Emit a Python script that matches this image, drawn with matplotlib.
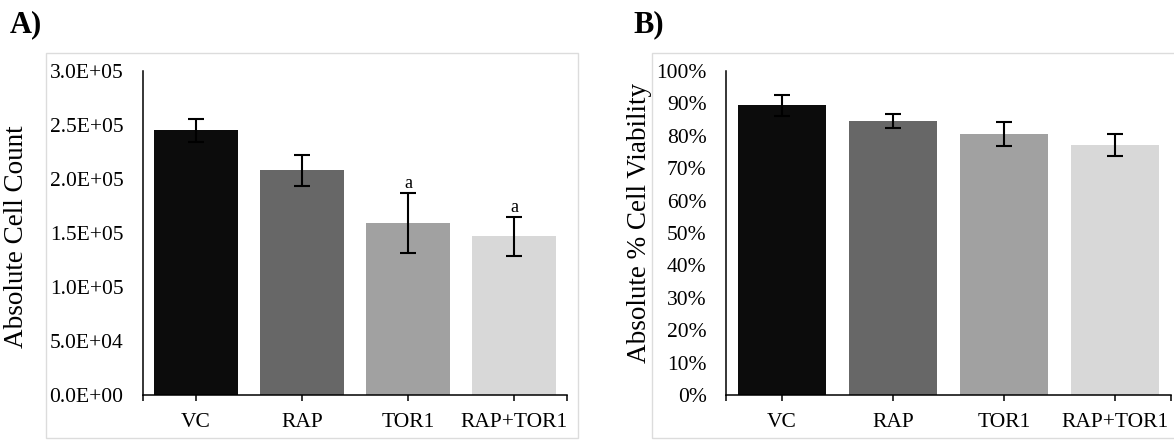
import matplotlib.pyplot as plt
import matplotlib.ticker as mticker
from matplotlib.patches import Rectangle

groups = ['VC', 'RAP', 'TOR1', 'RAP+TOR1']
colors = ['#0c0c0c', '#676767', '#a1a1a1', '#d8d8d8']

cell_count = [2.45e5, 2.08e5, 1.59e5, 1.47e5]
cell_count_err = [1.07e4, 1.44e4, 2.78e4, 1.79e4]
count_marks = ['', '', 'a', 'a']

viability = [89.4, 84.5, 80.5, 77.2]
viability_err = [3.2, 2.2, 3.7, 3.5]

plt.rcParams['font.family'] = ['Liberation Serif', 'DejaVu Serif']

fig = plt.figure(figsize=(11.74, 4.42), dpi=100)
W, H = 1174, 442


def px_axes(left, right, top, bottom):
    return fig.add_axes([left / W, 1 - bottom / H, (right - left) / W, (bottom - top) / H])


def style(ax):
    for s in ['top', 'right']:
        ax.spines[s].set_visible(False)
    ax.spines['left'].set_linewidth(1.1)
    ax.spines['bottom'].set_linewidth(1.1)
    ax.set_xlim(-0.5, 3.5)
    ax.set_xticks(range(len(groups)))
    ax.set_xticklabels(groups)
    ax.set_xticks([-0.5, 3.5], minor=True)
    ax.tick_params(axis='x', which='both', direction='out', length=4, width=1.1, pad=9, labelsize=15.5)
    ax.tick_params(axis='y', length=0, pad=14, labelsize=15.5)


# grey frames around the two panels
fig.patches.append(Rectangle((46 / W, 1 - 438 / H), 532 / W, 385 / H, transform=fig.transFigure,
                             fill=False, edgecolor='#dcdcdc', lw=1))
fig.patches.append(Rectangle((652 / W, 1 - 438 / H), 530 / W, 385 / H, transform=fig.transFigure,
                             fill=False, edgecolor='#dcdcdc', lw=1))

# A) absolute cell count
ax1 = px_axes(143, 567, 71, 395)
x = range(len(groups))
ax1.bar(x, cell_count, width=0.79, color=colors)
ax1.errorbar(x, cell_count, yerr=cell_count_err, fmt='none', ecolor='black',
             elinewidth=1.5, capsize=6, capthick=1.5)
for i, m in enumerate(count_marks):
    if m:
        ax1.annotate(m, (i, cell_count[i] + cell_count_err[i]), xytext=(0, 1),
                     textcoords='offset points', ha='center', va='bottom', fontsize=13)
ax1.set_ylim(0, 3.0e5)
ax1.set_yticks([i * 5e4 for i in range(7)])
ax1.yaxis.set_major_formatter(mticker.FuncFormatter(lambda v, p: f'{v:.1E}'))
style(ax1)
ax1.set_ylabel('Absolute Cell Count', fontsize=19.5)
ax1.yaxis.set_label_coords(-0.268, 0.49)

# B) cell viability
ax2 = px_axes(726, 1171, 71, 395)
ax2.bar(x, viability, width=0.79, color=colors)
ax2.errorbar(x, viability, yerr=viability_err, fmt='none', ecolor='black',
             elinewidth=1.5, capsize=6, capthick=1.5)
ax2.set_ylim(0, 100)
ax2.set_yticks(range(0, 101, 10))
ax2.yaxis.set_major_formatter(mticker.PercentFormatter(decimals=0))
style(ax2)
ax2.set_ylabel('Absolute % Cell Viability', fontsize=19.5)
ax2.yaxis.set_label_coords(-0.166, 0.53)

fig.text(10 / W, 1 - 32 / H, 'A)', fontsize=22, fontweight='bold')
fig.text(633 / W, 1 - 32 / H, 'B)', fontsize=22, fontweight='bold')

fig.savefig('out.png', dpi=100)
